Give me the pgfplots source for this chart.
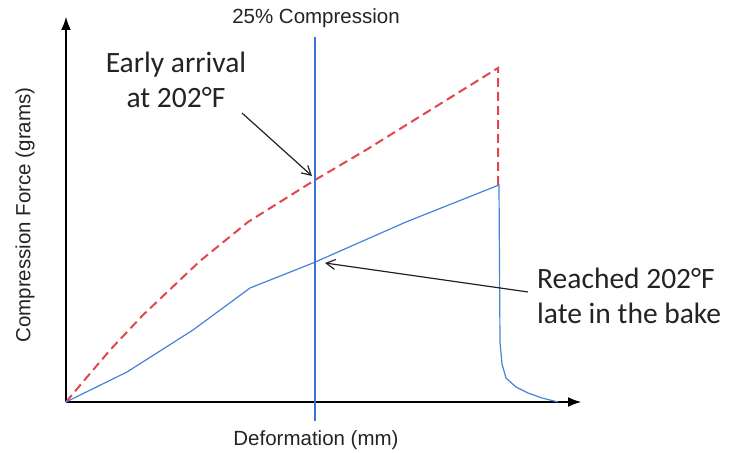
\documentclass[border=0pt]{standalone}
\usepackage{pgfplots}
\pgfplotsset{compat=1.18}
\usepackage{fontspec}
\usetikzlibrary{arrows.meta}
\setmainfont{Liberation Sans}
\newfontfamily\arialf{Liberation Sans}
\newfontfamily\calib{Carlito}
\definecolor{redline}{RGB}{225,70,75}
\definecolor{blueline}{RGB}{70,130,215}
\definecolor{vline}{RGB}{55,115,215}
\definecolor{txt}{RGB}{35,35,35}
\begin{document}
\begin{tikzpicture}
\begin{axis}[
    scale only axis,
    width=516bp, height=386bp,
    xmin=0, xmax=516,
    ymin=0, ymax=386,
    axis lines=left,
    axis line style={line width=2.8bp, black, -{Latex[length=14bp,width=10bp]}},
    ticks=none,
    clip=false,
]
% invisible frame: fixes the page to 730x448
\path (axis cs:-66,-46) rectangle (axis cs:664,402);

% early arrival (red, dashed)
\addplot[color=redline, line width=2bp, dash pattern=on 9bp off 5bp] coordinates {
    (0,0)(27,32)(45,53)(77,87)(134,141)(182,180)(249,222)(300,252)(432,334)(432,217)
};

% late arrival (blue, solid)
\addplot[color=blueline, line width=1.2bp] coordinates {
    (0,0)(61,30)(127,72)(184,114)(247,139)(340,180)(433,217)
    (434,60)(436,38)(440,24)(450,15)(462,9)(476,4)(492,0)
};

% 25% compression marker
\addplot[color=vline, line width=1.2bp] coordinates {(249,-19)(249,365)};

\node[font=\arialf\fontsize{20.5bp}{24bp}\selectfont, text=txt] at (axis cs:250,384) {25\% Compression};
\node[font=\arialf\fontsize{20.5bp}{24bp}\selectfont, text=txt] at (axis cs:250,-38) {Deformation (mm)};
\node[rotate=90, font=\arialf\fontsize{20.5bp}{24bp}\selectfont, text=txt] at (axis cs:-41,187) {Compression Force (grams)};

\node[font=\calib\fontsize{29.5bp}{35bp}\selectfont, text=txt, align=center] at (axis cs:110,322) {Early arrival\\at 202°F};
\node[font=\calib\fontsize{29.5bp}{35bp}\selectfont, text=txt, align=left, anchor=west, inner sep=0pt] at (axis cs:471,106) {Reached 202°F\\late in the bake};

\draw[txt, line width=1.2bp, -{Straight Barb[length=9bp,width=10bp]}] (axis cs:176,289) -- (axis cs:246,226);
\draw[txt, line width=1.2bp, -{Straight Barb[length=9bp,width=10bp]}] (axis cs:462,110) -- (axis cs:259,139);
\end{axis}
\end{tikzpicture}
\end{document}
